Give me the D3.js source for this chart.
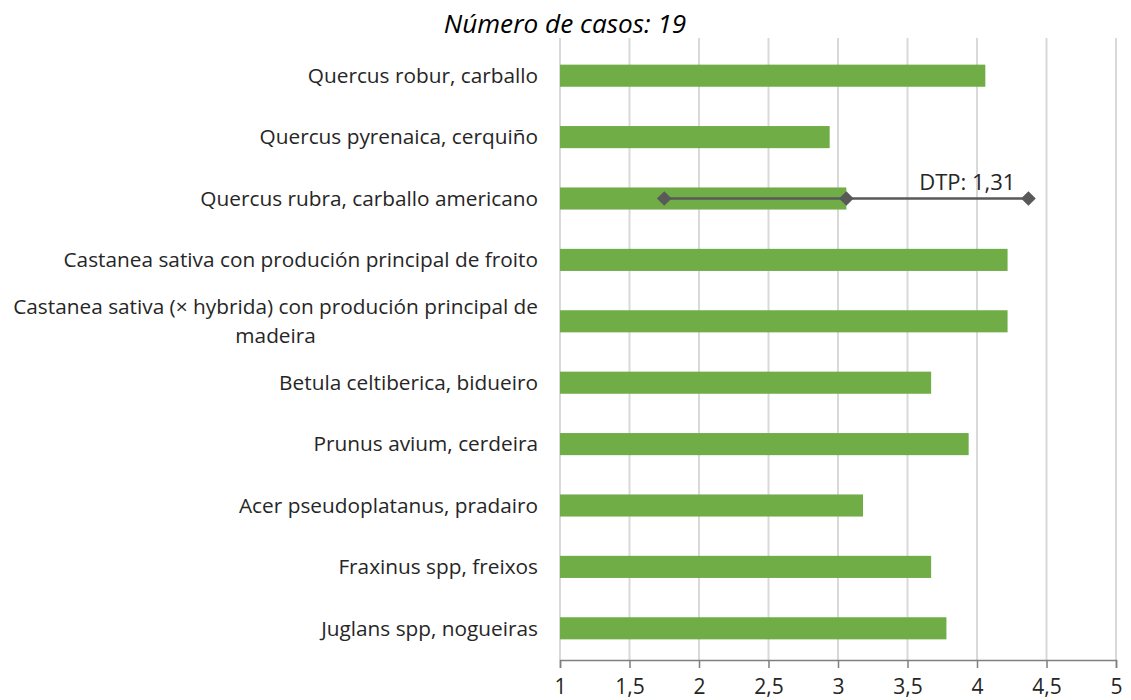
<!DOCTYPE html>
<html><head><meta charset="utf-8">
<script src="https://cdn.jsdelivr.net/npm/d3@7"></script>
<style>body{margin:0;background:#fff}svg{display:block}</style>
</head><body>
<svg id="c" width="1131" height="700"></svg>
<script>
const categories = [
  "Quercus robur, carballo",
  "Quercus pyrenaica, cerquiño",
  "Quercus rubra, carballo americano",
  "Castanea sativa con produción principal de froito",
  "Castanea sativa (× hybrida) con produción principal de madeira",
  "Betula celtiberica, bidueiro",
  "Prunus avium, cerdeira",
  "Acer pseudoplatanus, pradairo",
  "Fraxinus spp, freixos",
  "Juglans spp, nogueiras"
];
const values = [4.06, 2.94, 3.06, 4.22, 4.22, 3.67, 3.94, 3.18, 3.67, 3.78];
const errorCategory = "Quercus rubra, carballo americano";
const errorDTP = 1.31;
const errorLabel = "DTP: 1,31";
const xTicks = [1, 1.5, 2, 2.5, 3, 3.5, 4, 4.5, 5];
const titleText = "Número de casos: 19";

const svg = d3.select("#c");
const FONT = "'Open Sans', sans-serif";
const LFS = 20.8;
const x = d3.scaleLinear().domain([1, 5]).range([560, 1116]);
const y = d3.scaleBand().domain(categories).range([45, 659]).paddingInner(0.64).paddingOuter(0.32);

// gridlines
svg.append("g").selectAll("line").data(xTicks).join("line")
  .attr("x1", d => x(d)).attr("x2", d => x(d))
  .attr("y1", 38).attr("y2", 660)
  .attr("stroke", "#d9d9d9").attr("stroke-width", 2);

// title
svg.append("text").attr("x", 565).attr("y", 33).attr("text-anchor", "middle")
  .attr("font-family", FONT).attr("font-style", "italic").attr("font-size", 26.2)
  .attr("fill", "#000").text(titleText);

// bars
svg.append("g").selectAll("rect").data(categories).join("rect")
  .attr("x", x(1)).attr("y", d => y(d))
  .attr("width", (d, i) => x(values[i]) - x(1))
  .attr("height", y.bandwidth())
  .attr("fill", "#70ad47");

// axis
const axis = d3.axisBottom(x).tickValues(xTicks).tickSize(8)
  .tickFormat(d => String(d).replace(".", ","));
const ag = svg.append("g").attr("transform", "translate(0,660)").call(axis);
ag.select(".domain").attr("stroke", "#7f7f7f").attr("stroke-width", 1.5);
ag.selectAll(".tick line").attr("stroke", "#7f7f7f").attr("stroke-width", 1.5);
ag.selectAll(".tick text").attr("font-family", FONT).attr("font-size", 21)
  .attr("fill", "#262626").attr("y", 34).attr("dy", 0);

// category labels
const maxW = 540;
const lg = svg.append("g");
function measure(s) {
  const p = svg.append("text").attr("font-family", FONT).attr("font-size", LFS).text(s);
  const w = p.node().getComputedTextLength(); p.remove(); return w;
}
categories.forEach((c) => {
  const t = lg.append("text").attr("font-family", FONT).attr("font-size", LFS)
    .attr("fill", "#262626").attr("text-anchor", "end");
  const words = c.split(" ");
  let lines = [], cur = "";
  words.forEach(w => {
    const test = cur ? cur + " " + w : w;
    if (measure(test) > maxW && cur) { lines.push(cur); cur = w; }
    else cur = test;
  });
  lines.push(cur);
  const cy = y(c) + y.bandwidth() / 2;
  const lh = 29;
  if (lines.length === 1) {
    t.attr("x", 538).attr("y", cy).attr("dy", "0.35em").text(lines[0]);
  } else {
    const center = 538 - measure(lines[0]) / 2;
    t.attr("text-anchor", "middle");
    lines.forEach((l, k) => {
      t.append("tspan").attr("x", center)
        .attr("y", cy + (k - (lines.length - 1) / 2) * lh).attr("dy", "0.35em").text(l);
    });
  }
});

// error bar
const ei = categories.indexOf(errorCategory);
const ev = values[ei];
const ecy = y(errorCategory) + y.bandwidth() / 2;
const eg = svg.append("g");
eg.append("line").attr("x1", x(ev - errorDTP)).attr("x2", x(ev + errorDTP))
  .attr("y1", ecy).attr("y2", ecy).attr("stroke", "#595959").attr("stroke-width", 2.5);
const sym = d3.symbol().type(d3.symbolSquare).size(108);
eg.selectAll("path").data([ev - errorDTP, ev, ev + errorDTP]).join("path")
  .attr("d", sym).attr("transform", d => `translate(${x(d)},${ecy}) rotate(45)`)
  .attr("fill", "#595959");
eg.append("text").attr("x", x(ev + errorDTP) - 13).attr("y", ecy - 9)
  .attr("text-anchor", "end").attr("font-family", FONT).attr("font-size", 22)
  .attr("fill", "#262626").text(errorLabel);
</script>
</body></html>
